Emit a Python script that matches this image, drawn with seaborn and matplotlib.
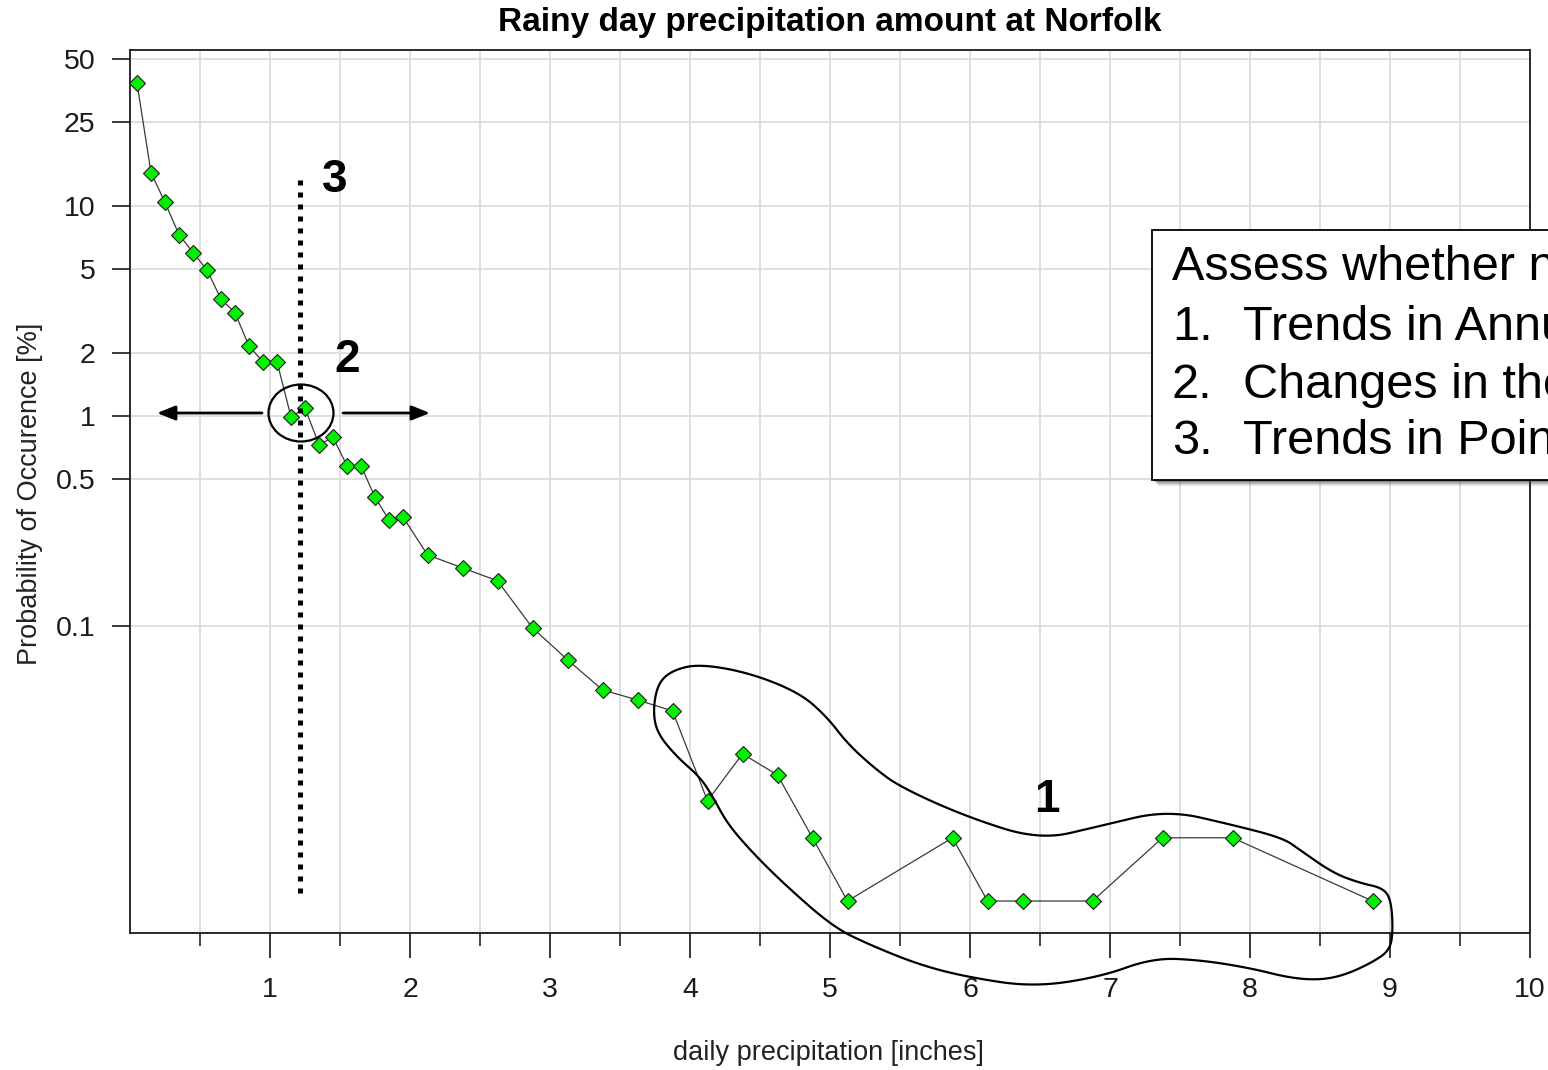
import matplotlib
matplotlib.use("Agg")
import matplotlib.pyplot as plt
import numpy as np
import pandas as pd
import seaborn as sns
from matplotlib.lines import Line2D
from matplotlib.patches import Ellipse, Polygon, Rectangle
from matplotlib.ticker import FixedLocator, NullLocator

W, H = 1548, 1070

# binned daily precipitation (inches) and probability of occurrence (%)
precip_inches = [0.05, 0.15, 0.25, 0.35, 0.45, 0.55, 0.65, 0.75, 0.85, 0.95,
                 1.05, 1.15, 1.25, 1.35, 1.45, 1.55, 1.65, 1.75, 1.85, 1.95,
                 2.125, 2.375, 2.625, 2.875, 3.125, 3.375, 3.625, 3.875,
                 4.125, 4.375, 4.625, 4.875, 5.125, 5.875, 6.125, 6.375,
                 6.875, 7.375, 7.875, 8.875]
prob_percent = [38.5, 14.4, 10.4, 7.3, 6.0, 4.96, 3.6, 3.1, 2.15, 1.81,
                1.81, 0.99, 1.09, 0.73, 0.79, 0.58, 0.58, 0.41, 0.32, 0.33,
                0.218, 0.189, 0.164, 0.098, 0.069, 0.0496, 0.0444, 0.0394,
                0.0147, 0.0246, 0.0195, 0.0098, 0.0049, 0.0098, 0.0049, 0.0049,
                0.0049, 0.0098, 0.0098, 0.0049]

y_ticks = [50, 25, 10, 5, 2, 1, 0.5, 0.1]
y_tick_labels = ["50", "25", "10", "5", "2", "1", "0.5", "0.1"]
x_ticks = [1, 2, 3, 4, 5, 6, 7, 8, 9, 10]
x_minor_ticks = [0.5, 1.5, 2.5, 3.5, 4.5, 5.5, 6.5, 7.5, 8.5, 9.5]

title = "Rainy day precipitation amount at Norfolk"
x_label = "daily precipitation [inches]"
y_label = "Probability of Occurence [%]"

box_heading = "Assess whether n"
box_numbers = ["1.", "2.", "3."]
box_items = ["Trends in Annu", "Changes in the", "Trends in Poin"]

# hand-drawn outline around the tail ("1"), in figure pixels (x right, y down)
tail_outline = [(653, 710), (658, 683), (673, 670), (700, 664), (750, 673), (800, 693),
                (827, 717), (847, 743), (873, 767), (900, 787), (967, 817), (1040, 840),
                (1100, 826), (1167, 810), (1233, 825), (1283, 838), (1300, 850), (1333, 873),
                (1360, 883), (1383, 888), (1391, 900), (1393, 930), (1390, 950), (1373, 962),
                (1345, 975), (1320, 980), (1290, 978), (1250, 968), (1200, 960), (1153, 958),
                (1100, 977), (1033, 987), (967, 977), (920, 965), (870, 945), (833, 927),
                (783, 883), (750, 850), (727, 823), (713, 797), (700, 777), (677, 757),
                (657, 733)]


def fig_xy(px, py):
    return px / W, 1 - py / H


def chaikin(points, n_iter=3):
    pts = np.asarray(points, dtype=float)
    for _ in range(n_iter):
        nxt = np.roll(pts, -1, axis=0)
        pts = np.column_stack([0.75 * pts + 0.25 * nxt, 0.25 * pts + 0.75 * nxt]).reshape(-1, 2)
    return pts


sns.set_style("white")
plt.rcParams["font.family"] = ["Liberation Sans", "DejaVu Sans"]
plt.rcParams["text.color"] = "black"

fig = plt.figure(figsize=(W / 100, H / 100), dpi=100)
ax = fig.add_axes([130 / W, 1 - 933 / H, 1400 / W, 883 / H])

df = pd.DataFrame({"precip": precip_inches, "prob": prob_percent})
sns.lineplot(
    data=df, x="precip", y="prob", ax=ax, estimator=None,
    color="#3a3a3a", linewidth=0.9,
    marker="D", markersize=7.8, markerfacecolor="#00f000",
    markeredgecolor="#1f1f1f", markeredgewidth=0.8, zorder=3,
)

ax.set_yscale("log")
ax.set_xlim(0, 10)
ax.set_ylim(0.00345, 55.3)

ax.yaxis.set_major_locator(FixedLocator(y_ticks))
ax.yaxis.set_minor_locator(NullLocator())
ax.set_yticklabels(y_tick_labels)
ax.set_xticks(x_ticks)
ax.set_xticks(x_minor_ticks, minor=True)

ax.set_axisbelow(True)
ax.grid(True, axis="x", which="both", color="#dcdcdc", linewidth=1.3)
ax.grid(True, axis="y", which="major", color="#dcdcdc", linewidth=1.3)

for side in ["left", "right", "top", "bottom"]:
    ax.spines[side].set_visible(True)
    ax.spines[side].set_color("#1a1a1a")
    ax.spines[side].set_linewidth(1.3)

ax.tick_params(axis="x", which="major", direction="out", length=18, width=1.2,
               pad=14, labelsize=20.5, colors="#1a1a1a", bottom=True)
ax.tick_params(axis="x", which="minor", direction="out", length=9.5, width=1.2, bottom=True)
ax.tick_params(axis="y", which="major", direction="out", length=13, width=1.2,
               pad=12, labelsize=20.5, colors="#1a1a1a", left=True)

ax.set_xlabel(x_label, fontsize=19.5, color="#222222", va="center")
ax.xaxis.set_label_coords((828 - 130) / 1400, -(1053 - 933) / 883)
ax.set_ylabel(y_label, fontsize=19.5, color="#222222", va="center")
ax.yaxis.set_label_coords((30 - 130) / 1400, (933 - 494) / 883)
ax.set_title(title, fontsize=24, fontweight="bold", color="black",
             y=1 + (50 - 23) / 883, pad=0, va="center")

# annotation 3: dotted vertical marker
fig.add_artist(Line2D([fig_xy(300, 0)[0]] * 2, [fig_xy(0, 180)[1], fig_xy(0, 900)[1]],
                      transform=fig.transFigure, color="black", linewidth=3.6,
                      linestyle=(0, (1, 1.4)), dash_capstyle="butt", zorder=5))

# annotation 2: circle with arrows either side
fig.add_artist(Ellipse(fig_xy(301, 413), width=65 / W, height=57 / H, transform=fig.transFigure,
                       fill=False, edgecolor="black", linewidth=1.6, zorder=5))
for start, end in [((262, 413), (157, 413)), ((343, 413), (430, 413))]:
    ax.annotate("", xy=(end[0], H - end[1]), xytext=(start[0], H - start[1]),
                xycoords="figure pixels", textcoords="figure pixels",
                arrowprops=dict(arrowstyle="-|>,head_length=0.55,head_width=0.22",
                                mutation_scale=20, color="black", lw=2,
                                shrinkA=0, shrinkB=0))

# annotation 1: outline around the tail
outline = chaikin(tail_outline, 4)
outline_fig = np.column_stack([outline[:, 0] / W, 1 - outline[:, 1] / H])
fig.add_artist(Polygon(outline_fig, closed=True, fill=False, edgecolor="black",
                       linewidth=1.6, transform=fig.transFigure, zorder=5))

for label, (px, py) in [("3", (335, 180)), ("2", (347, 360)), ("1", (1047, 800))]:
    fig.text(*fig_xy(px, py), label, fontsize=33, fontweight="bold",
             ha="center", va="center", color="black", zorder=6)

# text box with drop shadow, running off the right edge (as in the slide)
for off, alpha in [(6, 0.15), (4, 0.3), (2, 0.4)]:
    fig.add_artist(Rectangle(fig_xy(1152 + off, 480 + off), (1600 - 1152) / W, 250 / H,
                             transform=fig.transFigure, facecolor="#404040",
                             edgecolor="none", alpha=alpha, zorder=6))
fig.add_artist(Rectangle(fig_xy(1152, 480), (1600 - 1152) / W, 250 / H,
                         transform=fig.transFigure, facecolor="white",
                         edgecolor="black", linewidth=1.3, zorder=7))
fig.text(*fig_xy(1172, 268), box_heading, fontsize=35, ha="left", va="center",
         color="black", zorder=8)
for num, item, py in zip(box_numbers, box_items, [327, 385, 441]):
    fig.text(*fig_xy(1172, py), num, fontsize=35, ha="left", va="center", color="black", zorder=8)
    fig.text(*fig_xy(1243, py), item, fontsize=35, ha="left", va="center", color="black", zorder=8)

fig.savefig("out.png", dpi=100, facecolor="white")
